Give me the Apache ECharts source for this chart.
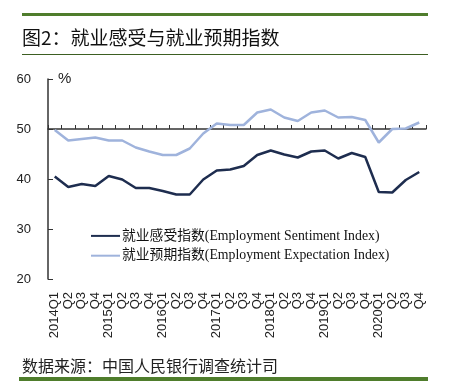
<!DOCTYPE html>
<html><head><meta charset="utf-8">
<script src="https://cdn.jsdelivr.net/npm/echarts@6/dist/echarts.min.js"></script>
<style>html,body{margin:0;padding:0;background:#fff}#c{width:449px;height:382px}</style>
</head><body><div id="c"></div>
<script>
const categories = ['2014Q1','Q2','Q3','Q4','2015Q1','Q2','Q3','Q4','2016Q1','Q2','Q3','Q4','2017Q1','Q2','Q3','Q4','2018Q1','Q2','Q3','Q4','2019Q1','Q2','Q3','Q4','2020Q1','Q2','Q3','Q4'];
const sentiment = [40.5,38.4,39.0,38.6,40.6,39.9,38.2,38.2,37.6,36.9,36.9,39.9,41.7,41.9,42.6,44.8,45.7,44.9,44.3,45.5,45.7,44.1,45.2,44.4,37.4,37.3,39.8,41.4];
const expectation = [49.8,47.7,48.0,48.3,47.7,47.7,46.3,45.5,44.8,44.8,46.1,49.1,51.1,50.8,50.8,53.3,53.9,52.3,51.6,53.3,53.7,52.3,52.4,51.8,47.3,50.0,50.1,51.3];
const yTicks = [20,30,40,50,60];
const nameSent = '就业感受指数(Employment Sentiment Index)';
const nameExp = '就业预期指数(Employment Expectation Index)';
const titleText = '图2：就业感受与就业预期指数';
const sourceText = '数据来源：中国人民银行调查统计司';

const chart = echarts.init(document.getElementById('c'));
const green = '#4f7d2c';
const axisColor = '#333';
const gridTop = 79, gridBottom = 103, gridH = 382 - gridTop - gridBottom;
chart.setOption({
  animation: false,
  grid: {left: 48, right: 23, top: gridTop, bottom: gridBottom},
  xAxis: [{
    type: 'category', data: categories, boundaryGap: true,
    axisLine: {show: false}, axisTick: {show: false},
    axisLabel: {rotate: 90, interval: 0, margin: 13, fontSize: 13, color: '#222', fontFamily: 'Liberation Sans, Arial'}
  },{
    type: 'category', data: categories, boundaryGap: true, position: 'bottom',
    offset: -gridH * (50 - yTicks[0]) / (yTicks[yTicks.length-1] - yTicks[0]),
    axisLine: {show: true, lineStyle: {color: axisColor, width: 1.5}},
    axisTick: {show: true, inside: true, length: 4, interval: 0, lineStyle: {color: axisColor}},
    axisLabel: {show: false}
  }],
  yAxis: {
    type: 'value', min: yTicks[0], max: yTicks[yTicks.length-1], interval: 10,
    axisLine: {show: true, lineStyle: {color: axisColor, width: 1.5}},
    axisTick: {show: true, inside: true, length: 5, lineStyle: {color: axisColor}},
    splitLine: {show: false},
    axisLabel: {margin: 17, fontSize: 13, color: '#222', fontFamily: 'Liberation Sans, Arial'}
  },
  legend: {
    orient: 'vertical', left: 86, top: 224, itemWidth: 29, itemHeight: 2, itemGap: 6,
    icon: 'rect',
    textStyle: {fontSize: 13.8, color: '#111', fontFamily: 'Liberation Serif, Noto Sans CJK SC', padding: [0,0,0,-3]},
    data: [nameSent, nameExp]
  },
  series: [
    {name: nameSent, type: 'line', data: sentiment, symbol: 'none', lineStyle: {color: '#1e2d4f', width: 2.5}, itemStyle: {color: '#1e2d4f'}},
    {name: nameExp, type: 'line', data: expectation, symbol: 'none', lineStyle: {color: '#9fb3dc', width: 2.5}, itemStyle: {color: '#9fb3dc'}}
  ],
  graphic: [
    {type: 'rect', shape: {x: 22, y: 13, width: 406, height: 3}, style: {fill: green}},
    {type: 'text', left: 22, top: 28, style: {text: titleText, fontSize: 19, fill: '#111', fontFamily: 'Noto Sans CJK SC'}},
    {type: 'rect', shape: {x: 22, y: 54, width: 406, height: 1}, style: {fill: '#3d5f22'}},
    {type: 'text', left: 58, top: 71, style: {text: '%', fontSize: 15, fill: '#222', fontFamily: 'Liberation Sans, Arial'}},
    {type: 'text', left: 22, top: 358, style: {text: sourceText, fontSize: 16, fill: '#222', fontFamily: 'Noto Sans CJK SC'}},
    {type: 'rect', shape: {x: 19, y: 377, width: 409, height: 4}, style: {fill: green}}
  ]
});
</script></body></html>
